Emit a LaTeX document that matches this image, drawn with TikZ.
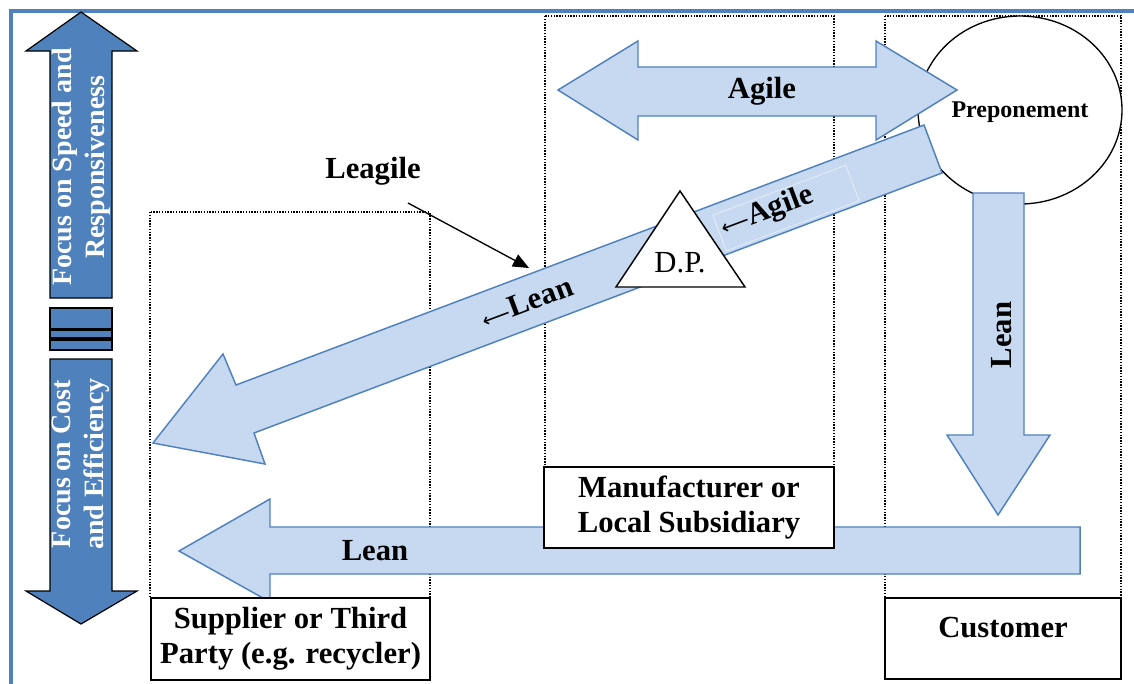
\documentclass[tikz,border=0pt]{standalone}
\usepackage{fontspec}
\setmainfont{Liberation Serif}
\newfontfamily\arrowglyph{DejaVu Sans}
\usetikzlibrary{arrows.meta,shapes.geometric}
\definecolor{lightblue}{HTML}{C6D9F1}
\definecolor{edgeblue}{HTML}{4F81BD}
\definecolor{deepblue}{HTML}{4F81BD}

\begin{document}
\begin{tikzpicture}[x=0.75pt,y=-0.75pt,
  flow/.style={fill=lightblue,draw=edgeblue,line width=1.1pt,line join=miter},
  focus/.style={fill=deepblue,draw=black,line width=0.9pt},
  column/.style={densely dotted,line width=1.1pt},
  box/.style={draw,line width=1.4pt,fill=white,inner sep=0pt},
  big/.style={font=\fontsize{23}{26}\selectfont\bfseries},
  focustext/.style={font=\fontsize{21}{25}\selectfont\bfseries,text=white,align=center,rotate=90},
  slanted/.style={big,rotate=20.6,inner sep=0pt}
]
\useasboundingbox (0,0) rectangle (1134,683);

% outer frame
\draw[edgeblue,line width=2.4pt] (11,690) -- (11,11) -- (1140,11);

% dotted columns for the three parties
\draw[column] (150,212) rectangle (430,598);
\draw[column] (545,16) rectangle (834,467);
\draw[column] (885,16) rectangle (1121,598);

% left scale: speed versus cost
\draw[focus] (81,12) -- (137,51) -- (112,51) -- (112,298) -- (50,298) -- (50,51) -- (26,51) -- cycle;
\draw[focus] (50,308) rectangle (112,329);
\draw[focus] (50,330) rectangle (112,338);
\draw[focus] (50,340) rectangle (112,350);
\draw[focus] (50,359) -- (112,359) -- (112,591) -- (137,591) -- (81,624) -- (26,591) -- (50,591) -- cycle;
\node[focustext] (speed) at (81,167) {Focus on Speed and\\Responsiveness};
\node[focustext] (cost) at (81,464) {Focus on Cost\\and Efficiency};

% postponement point at the customer
\node[ellipse,draw,fill=white,line width=1pt,minimum width=153pt,minimum height=141pt,inner sep=0pt] (prep) at (1020,110) {};
\node[font=\fontsize{18}{20}\selectfont\bfseries] (preptext) at (1020,112) {Preponement};

% agile double arrow
\draw[flow] (558,90) -- (638,41) -- (638,67) -- (876,67) -- (876,41) -- (957,90)
  -- (876,140) -- (876,116) -- (638,116) -- (638,140) -- cycle;
\node[big] (agile) at (762,91) {Agile};

% leagile diagonal arrow
\draw[flow] (924,125) -- (236,385) -- (223,354) -- (153,443) -- (265,464) -- (254,433) -- (942,173) -- cycle;
\draw[white,opacity=0.55,line width=0.6pt,rotate around={20.6:(786,208)}] (715,189) rectangle (857,227);
\node[slanted] (leandiag) at (527,302) {{\arrowglyph\mdseries\fontsize{15}{16}\selectfont ⟵}Lean};
\node[slanted] (agilediag) at (767,212) {{\arrowglyph\mdseries\fontsize{15}{16}\selectfont ⟵}Agile};

% decoupling point
\draw[fill=white,line width=1.1pt,line join=miter] (680,191) -- (745,287) -- (616,287) -- cycle;
\node[font=\fontsize{23}{26}\selectfont] (dp) at (680,263) {D.P.};

% lean arrow down to the customer
\draw[flow] (973,193) -- (1024,193) -- (1024,435) -- (1050,435) -- (998,515) -- (947,435) -- (973,435) -- cycle;
\node[big,rotate=90] (leandown) at (1002,335) {Lean};

% lean return arrow along the bottom
\draw[flow] (179,551) -- (270,499) -- (270,527) -- (1080,527) -- (1080,574) -- (270,574) -- (270,602) -- cycle;
\node[big] (leanback) at (375,551) {Lean};

% party boxes
\node[box,big,align=center,minimum width=209.25pt,minimum height=61.5pt] (supplier) at (290.5,639) {Supplier or Third\\Party (e.g. recycler)};
\node[box,big,align=center,minimum width=217.5pt,minimum height=60.75pt] (manuf) at (689,507.5) {Manufacturer or\\Local Subsidiary};
\node[box,minimum width=177pt,minimum height=60.75pt] (customer) at (1003,638.5) {};
\node[big] (customertext) at (1003,628) {Customer};

% leagile callout
\node[big] (leagile) at (373,171) {Leagile};
\coordinate (calloutstart) at (408,203);
\coordinate (callouttip) at (529,268);
\draw[line width=1pt,-{Triangle[length=12pt,width=10pt]}] (calloutstart) -- (callouttip);
\end{tikzpicture}
\end{document}
